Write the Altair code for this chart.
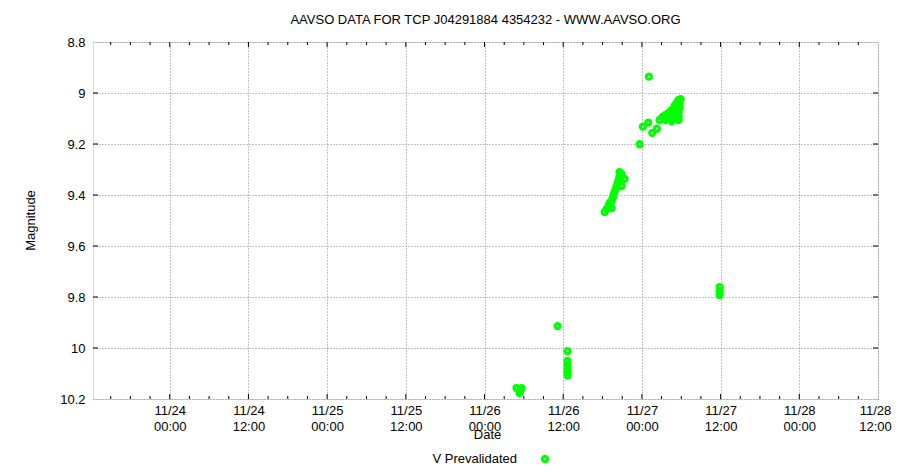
import altair as alt
import pandas as pd

# x: hours since 11/23 12:00 ; y: V magnitude
hours = [
    64.88, 65.65, 65.34, 65.49,
    71.14,
    72.66, 72.66, 72.66, 72.66, 72.66, 72.66,
    78.31, 78.62, 78.92, 79.07, 79.38, 79.53, 79.68, 79.83, 79.99, 80.14,
    80.29, 80.44, 80.59, 80.59, 80.90, 81.36, 80.90, 79.38,
    83.65,
    84.15, 84.97, 85.58, 86.28,
    85.06,
    86.70, 87.15, 87.61, 88.07, 88.53, 88.98, 89.29, 89.59, 89.90,
    89.75, 89.75, 89.59, 89.59, 89.59, 88.22, 88.83, 89.14, 88.68, 87.61,
    87.46, 87.92, 88.37, 88.83, 89.29, 89.44, 89.14, 88.53,
    95.85, 95.85, 95.85,
]
mags = [
    10.157, 10.157, 10.177, 10.165,
    9.914,
    10.012, 10.051, 10.065, 10.080, 10.095, 10.108,
    9.467, 9.455, 9.443, 9.431, 9.424, 9.412, 9.400, 9.388, 9.377, 9.365,
    9.353, 9.341, 9.326, 9.310, 9.318, 9.337, 9.365, 9.451,
    9.201,
    9.132, 9.116, 9.156, 9.140,
    8.936,
    9.106, 9.094, 9.086, 9.078, 9.067, 9.051, 9.039, 9.027, 9.024,
    9.043, 9.059, 9.075, 9.090, 9.106, 9.098, 9.090, 9.075, 9.106, 9.106,
    9.102, 9.094, 9.090, 9.078, 9.063, 9.051, 9.098, 9.110,
    9.761, 9.776, 9.792,
]

x_major = [12, 24, 36, 48, 60, 72, 84, 96, 108, 120]
x_minor = [h for h in range(3, 120, 3) if h % 12 != 0]
y_major = [8.8, 9.0, 9.2, 9.4, 9.6, 9.8, 10.0, 10.2]
legend_label = ["V Prevalidated"]

W, H = 785, 357
FONT = "Liberation Sans"
GREEN = "#00ff00"
MSIZE, MSTROKE = 26, 3.2

df = pd.DataFrame({"hours": hours, "mag": mags})
xs = alt.Scale(domain=[0.3, 120], nice=False, zero=False)
ys = alt.Scale(domain=[8.8, 10.2], reverse=True, nice=False, zero=False)

label_expr = ("['11/' + (23 + floor((datum.value + 12) / 24)), "
              "((datum.value + 12) % 24 == 0) ? '00:00' : '12:00']")

points = alt.Chart(df).mark_point(
    shape="circle", filled=False, size=MSIZE, strokeWidth=MSTROKE, color=GREEN, opacity=1
).encode(
    x=alt.X("hours:Q", scale=xs, axis=alt.Axis(
        values=x_major, grid=True, ticks=False, domain=False,
        labelExpr=label_expr, labelOverlap=False, labelFlush=False, labelBound=False,
        labelOffset={"condition": {"test": "datum.value >= 120", "value": -3}, "value": 0},
        labelPadding=5, labelBaseline="top", labelLineHeight=16,
        labelFontSize=13, labelFont=FONT, labelColor="#000",
        title="Date", titleFont=FONT, titleFontSize=13, titleFontWeight="normal",
        titleColor="#000", titleX=394, titleY=35, titleAlign="center",
        titleBaseline="middle", titleAnchor="start",
        gridColor="#888", gridDash=[1, 2], gridWidth=1, gridOpacity=1,
    )),
    y=alt.Y("mag:Q", scale=ys, axis=alt.Axis(
        values=y_major, grid=True, ticks=False, domain=False,
        format=".1~f", labelOverlap=False, labelFlush=False, labelBound=False,
        labelPadding=8, labelFontSize=13, labelFont=FONT, labelColor="#000",
        title="Magnitude", titleFont=FONT, titleFontSize=13, titleFontWeight="normal",
        titleColor="#000", titleX=-63, titleY=178, titleAngle=270,
        titleAlign="center", titleBaseline="middle", titleAnchor="start",
        gridColor="#888", gridDash=[1, 2], gridWidth=1, gridOpacity=1,
    )),
)

major_df = pd.DataFrame({"hours": x_major[:-1]})
minor_df = pd.DataFrame({"hours": x_minor})
ymaj_df = pd.DataFrame({"mag": y_major[1:-1]})

def xticks(data, length):
    bottom = alt.Chart(data).mark_rule(color="#000", strokeWidth=1).encode(
        x=alt.X("hours:Q", scale=xs), y=alt.value(H), y2=alt.value(H - length))
    top = alt.Chart(data).mark_rule(color="#000", strokeWidth=1).encode(
        x=alt.X("hours:Q", scale=xs), y=alt.value(0), y2=alt.value(length))
    return bottom + top

def yticks(data, length):
    left = alt.Chart(data).mark_rule(color="#000", strokeWidth=1).encode(
        y=alt.Y("mag:Q", scale=ys), x=alt.value(0), x2=alt.value(length))
    right = alt.Chart(data).mark_rule(color="#000", strokeWidth=1).encode(
        y=alt.Y("mag:Q", scale=ys), x=alt.value(W), x2=alt.value(W - length))
    return left + right

leg_df = pd.DataFrame({"label": legend_label})
leg_text = alt.Chart(leg_df).mark_text(
    align="right", baseline="middle", fontSize=13, font=FONT, color="#000"
).encode(x=alt.value(424), y=alt.value(417), text="label:N")
leg_point = alt.Chart(leg_df).mark_point(
    shape="circle", filled=False, size=MSIZE, strokeWidth=MSTROKE, color=GREEN, opacity=1
).encode(x=alt.value(452), y=alt.value(417))

chart = alt.layer(
    xticks(major_df, 5), xticks(minor_df, 3), yticks(ymaj_df, 5),
    points, leg_text, leg_point,
).properties(
    width=W, height=H,
    title=alt.TitleParams(
        "AAVSO DATA FOR TCP J04291884 4354232 - WWW.AAVSO.ORG",
        font=FONT, fontSize=13, fontWeight="normal", color="#000", offset=9,
        anchor="middle",
    ),
    autosize=alt.AutoSizeParams(type="none"),
    padding={"left": 85, "top": 34, "right": 14, "bottom": 66},
).configure_view(stroke="#000", strokeWidth=1.5).configure(background="white")

chart.save("out.html", embed_options={"renderer": "svg", "actions": False})
